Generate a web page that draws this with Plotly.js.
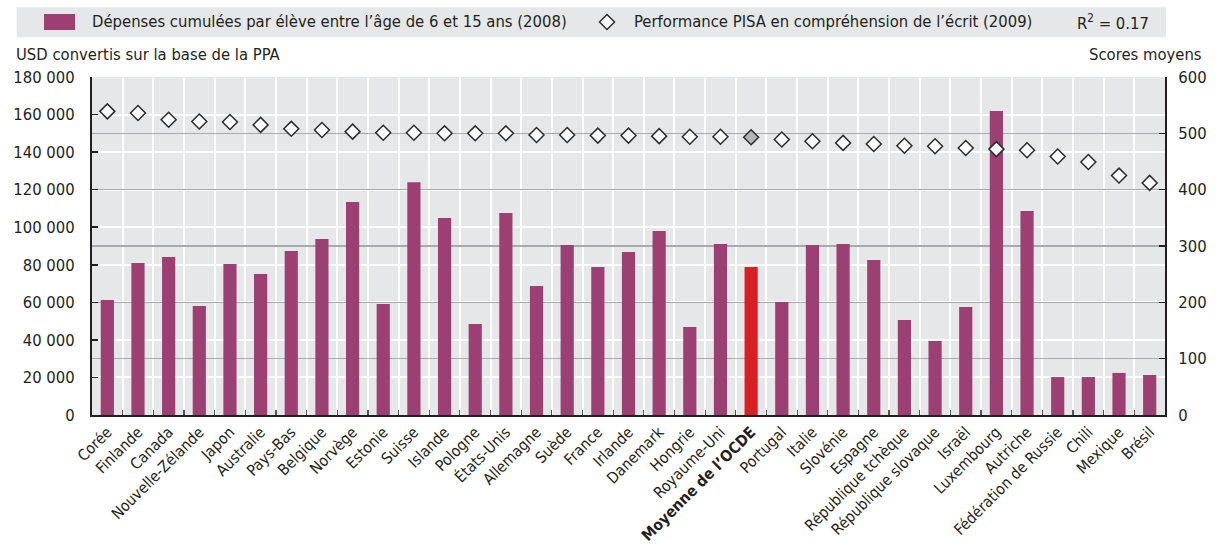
<!DOCTYPE html>
<html><head><meta charset="utf-8">
<script src="https://cdn.plot.ly/plotly-3.0.1.min.js"></script>
<style>html,body{margin:0;padding:0;background:#fff}#chart{width:1218px;height:546px}</style>
</head><body><div id="chart"></div>
<script>
const countries = ["Corée","Finlande","Canada","Nouvelle-Zélande","Japon","Australie","Pays-Bas","Belgique","Norvège","Estonie","Suisse","Islande","Pologne","États-Unis","Allemagne","Suède","France","Irlande","Danemark","Hongrie","Royaume-Uni","Moyenne de l’OCDE","Portugal","Italie","Slovénie","Espagne","République tchèque","République slovaque","Israël","Luxembourg","Autriche","Fédération de Russie","Chili","Mexique","Brésil"];
const spending = [61200,80900,84100,58000,80400,75100,87300,93700,113400,59100,124000,104900,48500,107600,68700,90500,78800,86800,98000,46900,91000,78800,60200,90500,91000,82500,50600,39400,57500,161900,108600,20200,20200,22400,21300];
const pisa = [539,536,524,521,520,515,508,506,503,501,501,500,500,500,497,497,496,496,495,494,494,493,489,486,483,481,478,477,474,472,470,459,449,425,412];
const leftTicks = [0,20000,40000,60000,80000,100000,120000,140000,160000,180000];
const rightTicks = [0,100,200,300,400,500,600];
const oecdLabel = "Moyenne de l’OCDE";
const seriesNames = ["Dépenses cumulées par élève entre l’âge de 6 et 15 ans (2008)","Performance PISA en compréhension de l’écrit (2009)"];
const r2Text = "R<sup>2</sup> = 0.17";
const leftTitle = "USD convertis sur la base de la PPA";
const rightTitle = "Scores moyens";

const FONT = "'DejaVu Sans Condensed', 'Liberation Sans Narrow', 'Arial Narrow', sans-serif";
const TXT = "#231F20";
const BAR = "#9C3F72", RED = "#DA1E26";
const FS = 16.5;

const barColors = countries.map(c => c === oecdLabel ? RED : BAR);
const dotColors = countries.map(c => c === oecdLabel ? "#B3B4B6" : "#FFFFFF");
const tickText = countries.map(c => c === oecdLabel ? "<b>" + c + "</b>" : c);

// plot area in px: x 92..1165, y 77..415
const L = 92, R = 1165, T = 77, B = 415;
const px = x => (x - L) / (R - L);
const py = y => (B - y) / (B - T);

const traces = [
  {type:"bar", x: countries, y: spending, marker:{color: barColors}, name: seriesNames[0], yaxis:"y"},
  {type:"scatter", mode:"markers", x: countries, y: pisa, yaxis:"y2", name: seriesNames[1],
   marker:{symbol:"diamond", size:11.5, color: dotColors, line:{color:"#2B2B2B", width:1.5}}}
];

const layout = {
  width:1218, height:546,
  margin:{l:L, r:1218-R, t:T, b:546-B},
  paper_bgcolor:"#FFFFFF", plot_bgcolor:"#E6E7E8",
  separators:", ",
  font:{family:FONT, size:FS, color:TXT},
  showlegend:false,
  bargap:0.57,
  xaxis:{type:"category", range:[-0.5, countries.length-0.5], tickson:"boundaries",
    tickvals: countries, ticktext: tickText,
    ticks:"inside", ticklen:5, tickwidth:1.2, tickcolor:"#555",
    showgrid:true, gridcolor:"#FFFFFF", gridwidth:2,
    showline:true, linecolor:TXT, linewidth:2, zeroline:false,
    tickangle:-45, tickfont:{family:FONT, size:15.5, color:TXT}},
  yaxis:{range:[0,180000], tickvals:leftTicks, tickformat:",d", ticks:"inside", ticklen:6, tickwidth:1.5, tickcolor:TXT,
    showgrid:true, gridcolor:"#FFFFFF", gridwidth:2, showline:true, linecolor:TXT, linewidth:2,
    zeroline:false, ticklabelstandoff:12, tickfont:{family:FONT, size:FS, color:TXT}},
  yaxis2:{range:[0,600], tickvals:rightTicks, tickformat:"d", overlaying:"y", side:"right", ticks:"inside", ticklen:6, tickwidth:1.5, tickcolor:TXT,
    showgrid:true, gridcolor:"#A7A9AC", gridwidth:1.5, showline:true, linecolor:TXT, linewidth:2,
    zeroline:false, ticklabelstandoff:8, tickfont:{family:FONT, size:FS, color:TXT}},
  shapes:[
    {type:"rect", xref:"paper", yref:"paper", x0:px(16.7), x1:px(1166), y0:py(37.3), y1:py(7.3), fillcolor:"#E6E7E8", line:{width:0}, layer:"below"},
    {type:"rect", xref:"paper", yref:"paper", x0:px(44), x1:px(75), y0:py(30), y1:py(14), fillcolor:BAR, line:{width:0}},
    {type:"path", xref:"paper", yref:"paper", xsizemode:"pixel", ysizemode:"pixel", xanchor:px(607), yanchor:py(22),
     path:"M -7.5 0 L 0 7.5 L 7.5 0 L 0 -7.5 Z", fillcolor:"#FFFFFF", line:{color:"#2B2B2B", width:1.5}}
  ],
  annotations:[
    {xref:"paper", yref:"paper", x:px(90), y:py(22), xanchor:"left", yanchor:"middle", text:seriesNames[0], showarrow:false, font:{family:FONT,size:FS,color:TXT}},
    {xref:"paper", yref:"paper", x:px(632), y:py(22), xanchor:"left", yanchor:"middle", text:seriesNames[1], showarrow:false, font:{family:FONT,size:FS,color:TXT}},
    {xref:"paper", yref:"paper", x:px(1151), y:py(22), xanchor:"right", yanchor:"middle", text:r2Text, showarrow:false, font:{family:FONT,size:FS,color:TXT}},
    {xref:"paper", yref:"paper", x:px(14), y:py(55), xanchor:"left", yanchor:"middle", text:leftTitle, showarrow:false, font:{family:FONT,size:FS,color:TXT}},
    {xref:"paper", yref:"paper", x:px(1204), y:py(55), xanchor:"right", yanchor:"middle", text:rightTitle, showarrow:false, font:{family:FONT,size:FS,color:TXT}}
  ]
};

Plotly.newPlot("chart", traces, layout, {displayModeBar:false, staticPlot:true});
</script></body></html>
